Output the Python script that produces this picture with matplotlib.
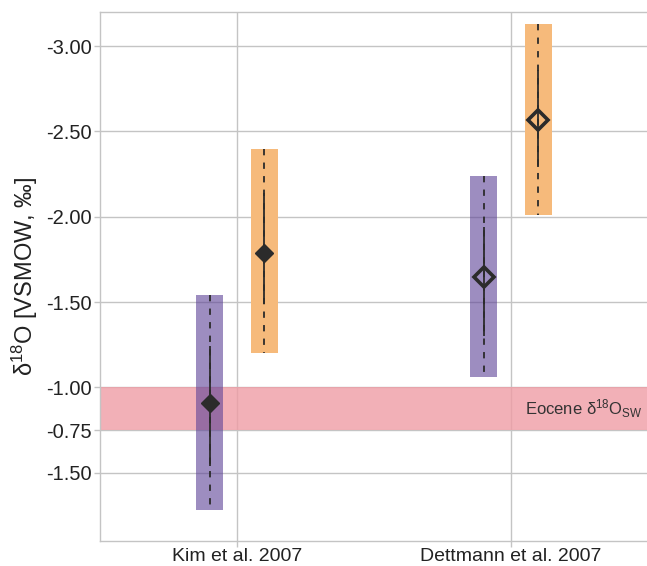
import numpy as np
import matplotlib
matplotlib.use('Agg')
import matplotlib.pyplot as plt

plt.rcParams['font.family'] = ['Liberation Sans', 'DejaVu Sans']
plt.rcParams['mathtext.fontset'] = 'custom'
plt.rcParams['mathtext.rm'] = 'Liberation Sans'
plt.rcParams['mathtext.it'] = 'Liberation Sans'

#################################################################

STUDIES = ['Kim et al. 2007', 'Dettmann et al. 2007']

# 보라색 (왼쪽) 값
purple_mid = [-0.91, -1.65]
purple_solid = [(-1.24, -0.54), (-1.94, -1.30)]
purple_box = [(-1.54, -0.28), (-2.24, -1.06)]

# 주황색 (오른쪽) 값
orange_mid = [-1.79, -2.57]
orange_solid = [(-2.14, -1.49), (-2.86, -2.29)]
orange_box = [(-2.40, -1.20), (-3.13, -2.01)]

# 채워진 마커 여부 (Kim = 채움, Dettmann = 빈 마커)
filled = [True, False]

eocene_band = (-1.00, -0.75)

YTICKS = [-3.0, -2.5, -2.0, -1.5, -1.0, -0.75, -0.5]
YTICK_LABELS = ['-3.00', '-2.50', '-2.00', '-1.50', '-1.00', '-0.75', '-1.50']

#################################################################

PURPLE = '#5c4196'
ORANGE = '#f6ba7b'
PINK = '#ef9da5'
DARK = '#2b2b2b'
GRID = '#c4c4c4'

fig = plt.figure(figsize=(6.47, 5.66), dpi=100)
ax = fig.add_axes([100 / 647, 25 / 566, 548 / 647, 529 / 566])

x = np.arange(len(STUDIES))
offset = 0.1
width = 0.1

ax.axhspan(eocene_band[0], eocene_band[1], color=PINK, alpha=0.8, zorder=1, lw=0)
ax.text(1.48, np.mean(eocene_band), r'Eocene $\mathrm{\delta^{18}O_{SW}}$',
        ha='right', va='center', fontsize=12, color='#333333', zorder=5)


def draw_group(xs, mids, solids, boxes, color, alpha):
    for i, xi in enumerate(xs):
        lo, hi = boxes[i]
        ax.bar(xi, hi - lo, bottom=lo, width=width, color=color, alpha=alpha,
               lw=0, zorder=2)
        ax.vlines(xi, lo, hi, colors=DARK, linestyles=(0, (3.5, 4.0)),
                  lw=1.3, zorder=3)
        s_lo, s_hi = solids[i]
        ax.vlines(xi, s_lo, s_hi, colors=DARK, linestyles='solid',
                  lw=1.3, zorder=3)
        if filled[i]:
            ax.plot(xi, mids[i], marker='D', ms=9.5, color=DARK,
                    mec=DARK, mew=1, zorder=4)
        else:
            ax.plot(xi, mids[i], marker='D', ms=10.5, mfc='none',
                    mec=DARK, mew=2.6, zorder=4)


draw_group(x - offset, purple_mid, purple_solid, purple_box, PURPLE, 0.6)
draw_group(x + offset, orange_mid, orange_solid, orange_box, ORANGE, 1.0)

ax.set_xlim(-0.5, 1.5)
ax.set_ylim(-0.1, -3.2)

ax.set_xticks(x)
ax.set_xticklabels(STUDIES, fontsize=14, color='#222222')
ax.set_yticks(YTICKS)
ax.set_yticklabels(YTICK_LABELS, fontsize=14.5, color='#222222')
ax.tick_params(axis='both', length=4, color=GRID, width=1, pad=2)
ax.tick_params(axis='x', pad=1)

ax.grid(True, color=GRID, lw=1, zorder=0)
ax.set_axisbelow(True)
for side in ['left', 'bottom', 'top', 'right']:
    ax.spines[side].set_color(GRID)
    ax.spines[side].set_linewidth(1)

ax.set_ylabel(r'$\mathrm{\delta^{18}O}$ [VSMOW, ‰]', fontsize=17, color='#222222',
              labelpad=4)

plt.savefig('out.png', dpi=100)
print('out.png 저장 완료')
